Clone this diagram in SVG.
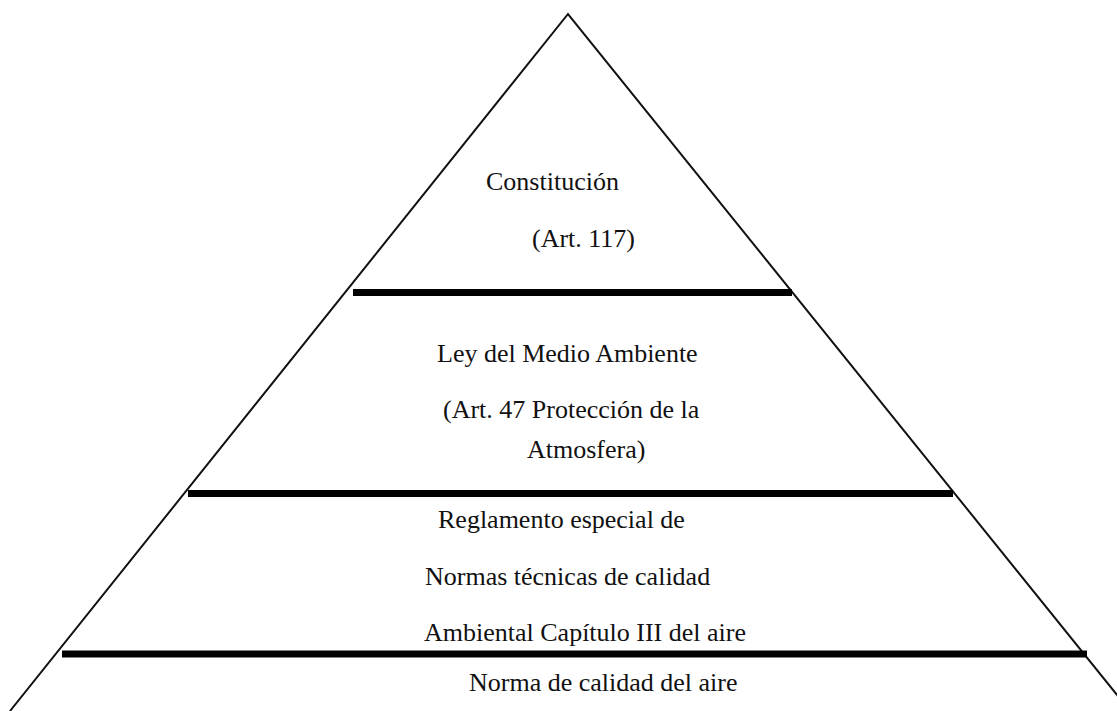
<svg xmlns="http://www.w3.org/2000/svg" width="1117" height="711" viewBox="0 0 1117 711">
<style>
text{font-family:"Liberation Serif","Times New Roman",serif;font-size:26px;fill:#111}
.side{stroke:#111;stroke-width:2;fill:none}
.bar{stroke:#000;stroke-width:7}
</style>
<rect width="1117" height="711" fill="#fff"/>
<g id="pyramid">
<polyline class="side" points="10,711 568,14 1130,711"/>
</g>
<g id="connectors">
<line class="bar" x1="353" y1="292.5" x2="792" y2="292.5"/>
<line class="bar" x1="188" y1="493.5" x2="953" y2="493.5"/>
<line class="bar" x1="62" y1="654" x2="1087" y2="654"/>
</g>
<g id="level1">
<text x="486" y="190">Constitución</text>
<text x="532" y="247">(Art. 117)</text>
</g>
<g id="level2">
<text x="437" y="362">Ley del Medio Ambiente</text>
<text x="443" y="418">(Art. 47 Protección de la</text>
<text x="527" y="458">Atmosfera)</text>
</g>
<g id="level3">
<text x="438" y="528">Reglamento especial de</text>
<text x="425" y="585">Normas técnicas de calidad</text>
<text x="424" y="641">Ambiental Capítulo III del aire</text>
</g>
<g id="level4">
<text x="469" y="691">Norma de calidad del aire</text>
</g>
</svg>
